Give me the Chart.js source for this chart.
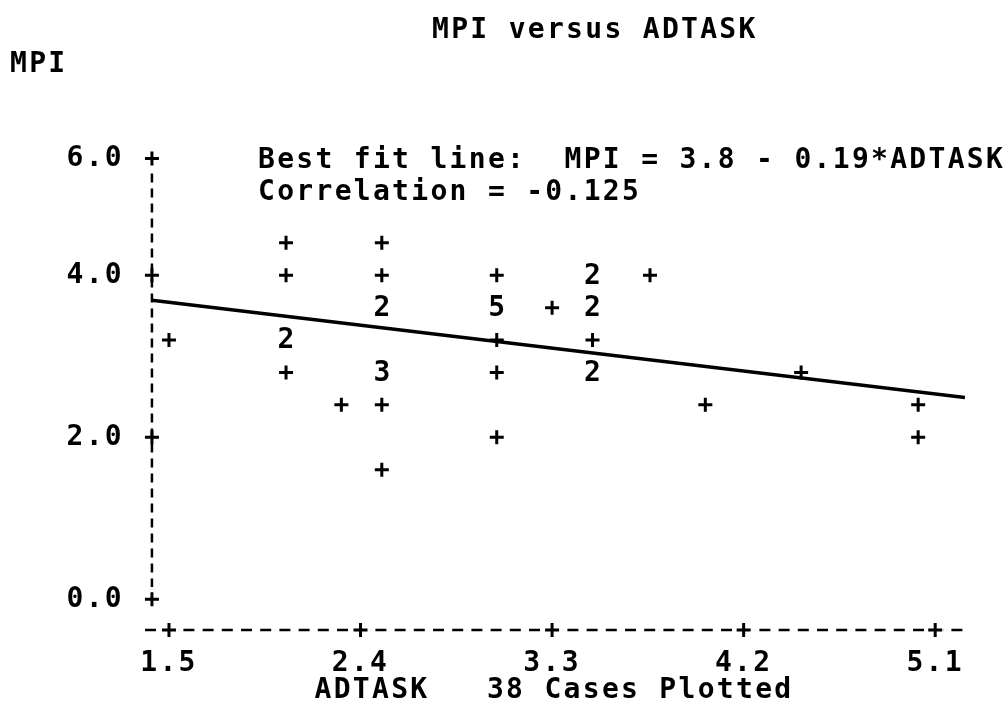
<!DOCTYPE html>
<html>
<head>
<meta charset="utf-8">
<script src="https://cdn.jsdelivr.net/npm/chart.js@4"></script>
<style>
  html, body { margin: 0; padding: 0; background: #fff; }
  canvas { display: block; }
</style>
</head>
<body>
<canvas id="chart" width="1008" height="708"></canvas>
<script>
// ADTASK / MPI cases, one entry per printed cell (cases = count shown in the cell)
const adtask = [1.50, 2.05, 2.05, 2.05, 2.05, 2.31, 2.50, 2.50, 2.50, 2.50, 2.50, 2.50,
                3.04, 3.04, 3.04, 3.04, 3.04, 3.30, 3.49, 3.49, 3.49, 3.49, 3.76, 4.02,
                4.47, 5.02, 5.02];
const mpi    = [3.2, 4.4, 4.0, 3.2, 2.8, 2.4, 4.4, 4.0, 3.6, 2.8, 2.4, 1.6,
                4.0, 3.6, 3.2, 2.8, 2.0, 3.6, 4.0, 3.6, 3.2, 2.8, 4.0, 2.4,
                2.8, 2.4, 2.0];
const cases  = [1, 1, 1, 2, 1, 1, 1, 1, 2, 3, 1, 1,
                1, 5, 1, 1, 1, 1, 2, 2, 1, 2, 1, 1,
                1, 1, 1];

// best fit line as drawn on the plot (end points)
const fitX = [1.42, 5.24];
const fitY = [3.69, 2.49];

const xTickValues = [1.5, 2.4, 3.3, 4.2, 5.1];
const xTickLabels = ['1.5', '2.4', '3.3', '4.2', '5.1'];
// the printer put the 6.0 row closer than the others
const yTickValues = [0, 2, 4, 5.44];
const yTickLabels = ['0.0', '2.0', '4.0', '6.0'];

const chartTitle = 'MPI versus ADTASK';
const yTitle = 'MPI';
const xTitle = 'ADTASK   38 Cases Plotted';
const fitText = 'Best fit line:  MPI = 3.8 - 0.19*ADTASK';
const corrText = 'Correlation = -0.125';

const FONT = { family: 'DejaVu Sans Mono', size: 28, weight: 'bold' };
const FONT_CSS = 'bold 28px "DejaVu Sans Mono"';
const SPACING = '2.3px';
const INK = '#000';
const Y_AXIS_AT = 1.42;   // ADTASK value where the vertical axis is printed

function setSpacing(chart) {
  chart.ctx.letterSpacing = SPACING;
}

function drawCross(ctx, x, y) {
  ctx.beginPath();
  ctx.moveTo(x - 7, y);
  ctx.lineTo(x + 7, y);
  ctx.moveTo(x, y - 7);
  ctx.lineTo(x, y + 7);
  ctx.stroke();
}

const printerPlugin = {
  id: 'printer',
  beforeUpdate: setSpacing,
  beforeLayout: setSpacing,
  beforeDraw: setSpacing,
  beforeDatasetsDraw(chart) {
    const { ctx, chartArea, scales: { x, y } } = chart;
    ctx.save();
    ctx.strokeStyle = INK;
    ctx.lineWidth = 2.5;

    // horizontal axis: dashed with + at the ticks
    ctx.setLineDash([11, 8.2]);
    ctx.lineDashOffset = -2;
    ctx.beginPath();
    ctx.moveTo(chartArea.left, chartArea.bottom);
    ctx.lineTo(chartArea.right, chartArea.bottom);
    ctx.stroke();

    // vertical axis
    const ax = x.getPixelForValue(Y_AXIS_AT);
    ctx.setLineDash([9, 6]);
    ctx.beginPath();
    ctx.moveTo(ax, y.getPixelForValue(5.28));
    ctx.lineTo(ax, y.getPixelForValue(0.15));
    ctx.stroke();

    ctx.setLineDash([]);
    ctx.lineWidth = 3;
    ctx.fillStyle = '#fff';
    xTickValues.forEach(v => {
      const px = x.getPixelForValue(v);
      ctx.fillRect(px - 8, chartArea.bottom - 3, 16, 6);
      drawCross(ctx, px, chartArea.bottom);
    });
    yTickValues.forEach(v => drawCross(ctx, ax, y.getPixelForValue(v)));
    ctx.restore();
  },
  afterDraw(chart) {
    const { ctx, scales: { x, y } } = chart;
    ctx.save();
    ctx.fillStyle = INK;
    ctx.font = FONT_CSS;

    // counts printed in place of the + when several cases share a cell
    ctx.letterSpacing = '0px';
    ctx.textAlign = 'center';
    ctx.textBaseline = 'middle';
    adtask.forEach((v, i) => {
      if (cases[i] > 1) {
        ctx.fillText(String(cases[i]), x.getPixelForValue(v), y.getPixelForValue(mpi[i]) + 1);
      }
    });

    ctx.letterSpacing = SPACING;
    ctx.textAlign = 'left';
    ctx.textBaseline = 'alphabetic';
    ctx.fillText(chartTitle, 432, 38);
    ctx.fillText(yTitle, 10, 72);
    ctx.fillText(fitText, 258, 168);
    ctx.fillText(corrText, 258, 200);
    ctx.restore();
  }
};

const singles = [];
adtask.forEach((v, i) => {
  if (cases[i] === 1) singles.push({ x: v, y: mpi[i] });
});

new Chart(document.getElementById('chart'), {
  type: 'scatter',
  data: {
    datasets: [
      {
        label: 'Cases',
        data: singles,
        pointStyle: 'cross',
        pointRadius: 7,
        pointBorderWidth: 3,
        borderColor: INK,
        backgroundColor: INK
      },
      {
        label: 'Best fit',
        type: 'line',
        data: fitX.map((v, i) => ({ x: v, y: fitY[i] })),
        borderColor: INK,
        borderWidth: 3.5,
        pointRadius: 0,
        tension: 0
      }
    ]
  },
  options: {
    responsive: false,
    animation: false,
    events: [],
    layout: { padding: { top: 110, right: 43, left: 0, bottom: 0 } },
    plugins: {
      legend: { display: false },
      tooltip: { enabled: false }
    },
    scales: {
      x: {
        type: 'linear',
        min: 1.378,
        max: 5.24,
        afterBuildTicks: s => { s.ticks = xTickValues.map(v => ({ value: v })); },
        afterFit: s => { s.height = 78; },
        ticks: {
          callback: (v, i) => xTickLabels[i],
          font: FONT,
          color: INK,
          padding: 9,
          maxRotation: 0,
          autoSkip: false
        },
        grid: { display: false },
        border: { display: false },
        title: {
          display: true,
          text: xTitle,
          font: FONT,
          color: INK,
          padding: { top: 0, bottom: 0 }
        }
      },
      y: {
        type: 'linear',
        min: -0.38,
        max: 6.04,
        afterBuildTicks: s => { s.ticks = yTickValues.map(v => ({ value: v })); },
        afterFit: s => { s.width = 143; },
        ticks: {
          callback: (v, i) => yTickLabels[i],
          font: FONT,
          color: INK,
          padding: 11,
          autoSkip: false
        },
        grid: { display: false },
        border: { display: false }
      }
    }
  },
  plugins: [printerPlugin]
});
</script>
</body>
</html>
